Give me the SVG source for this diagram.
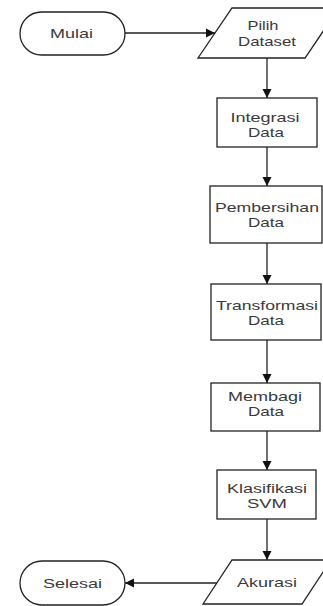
<svg xmlns="http://www.w3.org/2000/svg" width="323" height="606" viewBox="0 0 323 606">
<style>
.shape{fill:#fff;stroke:#222;stroke-width:1.3}
.lbl{font-family:"Liberation Sans",Arial,sans-serif;font-size:13px;fill:#3a3a3a;text-anchor:middle}
.conn{fill:none;stroke:#222;stroke-width:1.3}
</style>
<defs>
<marker id="ah" markerUnits="userSpaceOnUse" markerWidth="10" markerHeight="10" viewBox="0 0 10 10" refX="9" refY="5" orient="auto">
<path d="M0,0.5 L9,5 L0,9.5 Z" fill="#111"/>
</marker>
</defs>
<g id="connectors">
<path class="conn" d="M125,33 H215" marker-end="url(#ah)"/>
<path class="conn" d="M267,58 V98" marker-end="url(#ah)"/>
<path class="conn" d="M267,147 V186" marker-end="url(#ah)"/>
<path class="conn" d="M267,243 V284" marker-end="url(#ah)"/>
<path class="conn" d="M267,340 V383" marker-end="url(#ah)"/>
<path class="conn" d="M267,431 V470" marker-end="url(#ah)"/>
<path class="conn" d="M267,519 V560" marker-end="url(#ah)"/>
<path class="conn" d="M217,583 H125" marker-end="url(#ah)"/>
</g>
<g id="mulai">
<rect class="shape" x="20" y="12" width="105" height="43" rx="21.5" ry="21.5"/>
<text class="lbl" x="71.5" y="38" textLength="43" lengthAdjust="spacingAndGlyphs">Mulai</text>
</g>
<g id="pilih-dataset">
<polygon class="shape" points="232,8 339,8 305,58 198,58"/>
<text class="lbl" x="263" y="30" textLength="31" lengthAdjust="spacingAndGlyphs">Pilih</text>
<text class="lbl" x="267" y="46" textLength="58" lengthAdjust="spacingAndGlyphs">Dataset</text>
</g>
<g id="integrasi">
<rect class="shape" x="217" y="98" width="100" height="49"/>
<text class="lbl" x="265" y="122" textLength="69" lengthAdjust="spacingAndGlyphs">Integrasi</text>
<text class="lbl" x="266" y="137" textLength="36" lengthAdjust="spacingAndGlyphs">Data</text>
</g>
<g id="pembersihan">
<rect class="shape" x="210" y="186" width="112" height="57"/>
<text class="lbl" x="267" y="212" textLength="104" lengthAdjust="spacingAndGlyphs">Pembersihan</text>
<text class="lbl" x="266" y="227" textLength="36" lengthAdjust="spacingAndGlyphs">Data</text>
</g>
<g id="transformasi">
<rect class="shape" x="211" y="284" width="110" height="56"/>
<text class="lbl" x="267" y="310" textLength="102" lengthAdjust="spacingAndGlyphs">Transformasi</text>
<text class="lbl" x="266" y="325" textLength="36" lengthAdjust="spacingAndGlyphs">Data</text>
</g>
<g id="membagi">
<rect class="shape" x="211" y="383" width="109" height="48"/>
<text class="lbl" x="265" y="401" textLength="74" lengthAdjust="spacingAndGlyphs">Membagi</text>
<text class="lbl" x="266" y="416" textLength="36" lengthAdjust="spacingAndGlyphs">Data</text>
</g>
<g id="klasifikasi">
<rect class="shape" x="217" y="470" width="99" height="49"/>
<text class="lbl" x="267" y="493" textLength="80" lengthAdjust="spacingAndGlyphs">Klasifikasi</text>
<text class="lbl" x="267" y="508" textLength="40" lengthAdjust="spacingAndGlyphs">SVM</text>
</g>
<g id="akurasi">
<polygon class="shape" points="232,560 331,560 302,604 203,604"/>
<text class="lbl" x="267" y="587" textLength="60" lengthAdjust="spacingAndGlyphs">Akurasi</text>
</g>
<g id="selesai">
<rect class="shape" x="20" y="561" width="105" height="44" rx="22" ry="22"/>
<text class="lbl" x="72.5" y="588" textLength="59" lengthAdjust="spacingAndGlyphs">Selesai</text>
</g>
</svg>
